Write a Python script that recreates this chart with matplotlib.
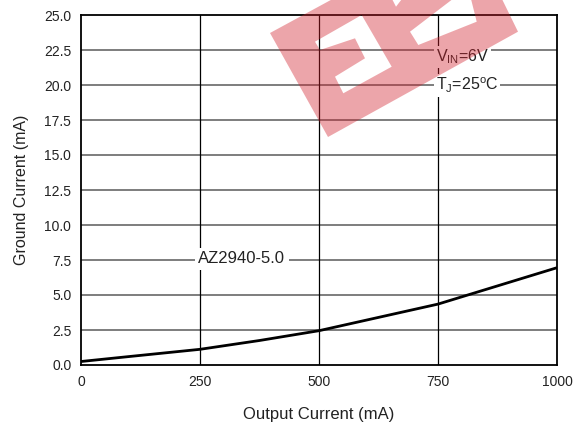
import numpy as np
import matplotlib
matplotlib.use("Agg")
import matplotlib.pyplot as plt
from matplotlib.path import Path
from matplotlib.patches import PathPatch
from matplotlib.transforms import Affine2D

plt.rcParams['font.family'] = ['Liberation Sans', 'DejaVu Sans']
plt.rcParams['mathtext.fontset'] = 'custom'
plt.rcParams['mathtext.rm'] = 'Liberation Sans'
plt.rcParams['mathtext.it'] = 'Liberation Sans'

# data
output_current = [0, 100, 250, 375, 500, 625, 750, 875, 1000]
ground_current = [0.25, 0.6, 1.12, 1.75, 2.45, 3.4, 4.35, 5.65, 6.95]
x_ticks = [0, 250, 500, 750, 1000]
y_ticks = [0.0, 2.5, 5.0, 7.5, 10.0, 12.5, 15.0, 17.5, 20.0, 22.5, 25.0]

W, H = 574, 425
fig = plt.figure(figsize=(W / 100, H / 100), dpi=100)
ax = fig.add_axes([81 / W, 60 / H, 476 / W, 350 / H])

ax.set_xlim(0, 1000)
ax.set_ylim(0, 25)
ax.set_xticks(x_ticks)
ax.set_xticklabels([str(v) for v in x_ticks])
ax.set_yticks(y_ticks)
ax.set_yticklabels([f"{v:.1f}" for v in y_ticks])
ax.tick_params(length=0, labelsize=10, pad=7, colors='#222222')

for v in y_ticks[1:-1]:
    ax.axhline(v, color='#5a5a5a', lw=1.1, zorder=1)
for v in x_ticks[1:-1]:
    ax.axvline(v, color='black', lw=0.9, zorder=1.5)
for s in ax.spines.values():
    s.set_linewidth(1.3)
    s.set_color('black')

ax.plot(output_current, ground_current, color='black', lw=2.0, zorder=3,
        solid_capstyle='butt')

ax.set_xlabel('Output Current (mA)', fontsize=12, labelpad=13, color='#222222')
ax.set_ylabel('Ground Current (mA)', fontsize=11.5, labelpad=11, color='#222222')

box = dict(facecolor='white', edgecolor='none', pad=1.5)
ax.text(338, 7.6, 'AZ2940-5.0', fontsize=12, ha='center', va='center',
        bbox=dict(facecolor='white', edgecolor='none', pad=2.5), zorder=4,
        color='#222222')
ax.text(745, 22.0, r'V$_{\mathrm{IN}}$=6V', fontsize=11.5, ha='left', va='center',
        bbox=box, zorder=4, color='#222222')
ax.text(745, 19.95, r'T$_{\mathrm{J}}$=25$^{\mathrm{o}}$C', fontsize=11.5, ha='left',
        va='center', bbox=box, zorder=4, color='#222222')

# watermark (decoration, in image pixel coordinates)
outer = [(270, 33), (328, 137), (518, 31.7), (500, -5), (340, -5)]
holes = [
    [(315, 41.7), (361.7, 15), (391.7, 66.7), (343.3, 93.3), (335, 76.7),
     (365, 58.3), (355, 38.3), (320, 50)],
    [(410, 31.7), (458, -5), (470, -5), (476.7, 21.7), (418.3, 45)],
    [(390, -5), (405, -5), (396, 6.7)],
]


def area(p):
    p = np.asarray(p)
    return 0.5 * np.sum(p[:, 0] * np.roll(p[:, 1], -1) - np.roll(p[:, 0], -1) * p[:, 1])


verts, codes = [], []
so = np.sign(area(outer))
for poly in [outer] + holes:
    pts = list(poly)
    if poly is not outer and np.sign(area(pts)) == so:
        pts = pts[::-1]
    verts += pts + [pts[0]]
    codes += [Path.MOVETO] + [Path.LINETO] * (len(pts) - 1) + [Path.CLOSEPOLY]

tr = Affine2D().scale(1 / W, -1 / H).translate(0, 1) + fig.transFigure
wm = PathPatch(Path(verts, codes), facecolor=(0.82, 0.12, 0.17), alpha=0.4,
               edgecolor='none', transform=tr, zorder=10)
fig.patches.append(wm)

fig.savefig('out.png', dpi=100)
